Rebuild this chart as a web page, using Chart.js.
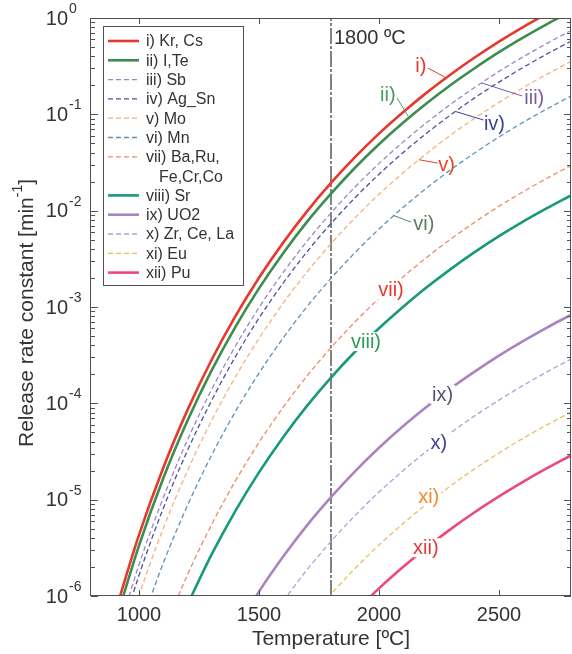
<!DOCTYPE html>
<html>
<head>
<meta charset="utf-8">
<title>Release rate constants</title>
<script src="https://cdn.jsdelivr.net/npm/chart.js@4.4.1/dist/chart.umd.min.js"></script>
<style>
  html, body { margin: 0; padding: 0; background: #fff; }
  #releaseChart { display: block; }
</style>
</head>
<body>
<canvas id="releaseChart" width="572" height="654"></canvas>
<script>
// temperature grid [ºC] and release rate constants [1/min]
const temps = [800, 900, 1000, 1100, 1200, 1300, 1400, 1500, 1600, 1700, 1800,
               1900, 2000, 2100, 2200, 2300, 2400, 2500, 2600, 2700, 2800];

const krCs   = [null, 6.71e-7, 4.31e-6, 2.11e-5, 8.30e-5, 2.75e-4, 7.89e-4, 2.01e-3, 4.63e-3, 9.84e-3, 1.94e-2,
                3.59e-2, 6.30e-2, 0.105, 0.169, 0.261, 0.391, 0.569, 0.805, 1.11, 1.51];
const iTe    = [null, 5.21e-7, 3.34e-6, 1.64e-5, 6.44e-5, 2.13e-4, 6.12e-4, 1.56e-3, 3.60e-3, 7.64e-3, 1.50e-2,
                2.79e-2, 4.89e-2, 8.17e-2, 0.131, 0.203, 0.303, 0.442, 0.625, 0.865, 1.17];
const sb     = [null, 3.29e-7, 2.11e-6, 1.03e-5, 4.06e-5, 1.35e-4, 3.86e-4, 9.86e-4, 2.27e-3, 4.82e-3, 9.48e-3,
                1.76e-2, 3.08e-2, 5.15e-2, 8.26e-2, 0.128, 0.191, 0.279, 0.394, 0.546, 0.740];
const agSn   = [null, 2.55e-7, 1.64e-6, 8.02e-6, 3.16e-5, 1.04e-4, 3.00e-4, 7.66e-4, 1.76e-3, 3.74e-3, 7.36e-3,
                1.36e-2, 2.39e-2, 4.00e-2, 6.41e-2, 9.93e-2, 0.149, 0.216, 0.306, 0.424, 0.574];
const mo     = [null, 1.57e-7, 1.01e-6, 4.94e-6, 1.95e-5, 6.44e-5, 1.85e-4, 4.72e-4, 1.09e-3, 2.31e-3, 4.54e-3,
                8.41e-3, 1.48e-2, 2.47e-2, 3.95e-2, 6.12e-2, 9.16e-2, 0.133, 0.189, 0.261, 0.354];
const mn     = [null, null, 4.41e-7, 2.16e-6, 8.49e-6, 2.81e-5, 8.07e-5, 2.06e-4, 4.74e-4, 1.01e-3, 1.98e-3,
                3.67e-3, 6.44e-3, 1.08e-2, 1.73e-2, 2.67e-2, 4.00e-2, 5.82e-2, 8.24e-2, 0.114, 0.155];
const baRu   = [null, null, null, 4.11e-7, 1.62e-6, 5.36e-6, 1.54e-5, 3.93e-5, 9.04e-5, 1.92e-4, 3.78e-4,
                7.00e-4, 1.23e-3, 2.05e-3, 3.29e-3, 5.09e-3, 7.62e-3, 1.11e-2, 1.57e-2, 2.17e-2, 2.94e-2];
const sr     = [null, null, null, null, 7.93e-7, 2.62e-6, 7.53e-6, 1.92e-5, 4.43e-5, 9.40e-5, 1.85e-4,
                3.43e-4, 6.01e-4, 1.00e-3, 1.61e-3, 2.49e-3, 3.73e-3, 5.43e-3, 7.69e-3, 1.06e-2, 1.44e-2];
const uo2    = [null, null, null, null, null, null, 4.34e-7, 1.11e-6, 2.55e-6, 5.41e-6, 1.06e-5,
                1.97e-5, 3.46e-5, 5.78e-5, 9.27e-5, 1.44e-4, 2.15e-4, 3.13e-4, 4.43e-4, 6.12e-4, 8.30e-4];
const zrCeLa = [null, null, null, null, null, null, null, null, 8.83e-7, 1.87e-6, 3.69e-6,
                6.84e-6, 1.20e-5, 2.00e-5, 3.21e-5, 4.98e-5, 7.45e-5, 1.08e-4, 1.53e-4, 2.12e-4, 2.88e-4];
const eu     = [null, null, null, null, null, null, null, null, null, 5.28e-7, 1.04e-6,
                1.93e-6, 3.38e-6, 5.65e-6, 9.06e-6, 1.40e-5, 2.10e-5, 3.05e-5, 4.33e-5, 5.98e-5, 8.11e-5];
const pu     = [null, null, null, null, null, null, null, null, null, null, null,
                6.84e-7, 1.20e-6, 2.00e-6, 3.21e-6, 4.98e-6, 7.45e-6, 1.08e-5, 1.53e-5, 2.12e-5, 2.88e-5];

const seriesNames = ['i) Kr, Cs', 'ii) I,Te', 'iii) Sb', 'iv) Ag_Sn', 'v) Mo', 'vi) Mn',
                     ['vii) Ba,Ru,', 'Fe,Cr,Co'], 'viii) Sr', 'ix) UO2', 'x) Zr, Ce, La', 'xi) Eu', 'xii) Pu'];
const seriesValues = [krCs, iTe, sb, agSn, mo, mn, baRu, sr, uo2, zrCeLa, eu, pu];

const xTicks = [1000, 1500, 2000, 2500];
const yDecades = [0, -1, -2, -3, -4, -5, -6];
const markerTemp = 1800;
const markerSpan = [1e-6, 1];

const FONT = "'Liberation Sans', Arial, Helvetica, sans-serif";
const INK = '#333333';

// line look for each series (solid = thick, dashed = thin)
const seriesStyles = [
    { color: '#e8382d', dashed: false },
    { color: '#3d8d4f', dashed: false },
    { color: '#9d86c4', dashed: true },
    { color: '#4d4f9e', dashed: true },
    { color: '#f5b27c', dashed: true },
    { color: '#5e91b5', dashed: true },
    { color: '#f08a68', dashed: true },
    { color: '#17997b', dashed: false },
    { color: '#a985c0', dashed: false },
    { color: '#a2a4dc', dashed: true },
    { color: '#ecbd5c', dashed: true },
    { color: '#ec4a79', dashed: false }
];

// inline labels, placed in data coordinates
const curveLabels = [
    { text: 'i)',    color: '#e8382d', at: [2174, 0.318],   leader: [[2203, 0.303], [2274, 0.244]] },
    { text: 'ii)',   color: '#4b9a5a', at: [2037, 0.159],   leader: [[2075, 0.148], [2122, 0.095]] },
    { text: 'iii)',  color: '#7a5aa8', at: [2647, 0.148],   leader: [[2597, 0.155], [2427, 0.212]] },
    { text: 'iv)',   color: '#3c3f9a', at: [2481, 0.0813],  leader: [[2436, 0.0873], [2319, 0.107]] },
    { text: 'v)',    color: '#e8452a', at: [2282, 0.0305],  leader: [[2245, 0.0312], [2166, 0.0338]] },
    { text: 'vi)',   color: '#5b7c63', at: [2187, 7.43e-3], leader: [[2133, 7.62e-3], [2062, 8.89e-3]] },
    { text: 'vii)',  color: '#e8392a', at: [2050, 1.53e-3], knockout: true },
    { text: 'viii)', color: '#2a9a5a', at: [1946, 4.43e-4], knockout: true },
    { text: 'ix)',   color: '#5b4f7a', at: [2265, 1.25e-4], knockout: true },
    { text: 'x)',    color: '#40409a', at: [2249, 3.95e-5], knockout: true },
    { text: 'xi)',   color: '#f08a2a', at: [2207, 1.09e-5], knockout: true },
    { text: 'xii)',  color: '#e23a3a', at: [2195, 3.21e-6], knockout: true }
];

function toPoints(values) {
    return temps.map((t, i) => ({ x: t, y: values[i] }));
}

const datasets = seriesValues.map((values, i) => {
    const st = seriesStyles[i];
    return {
        label: seriesNames[i],
        data: toPoints(values),
        borderColor: st.color,
        borderWidth: st.dashed ? 1.3 : 2.6,
        borderDash: st.dashed ? [5, 3] : [],
        pointRadius: 0,
        cubicInterpolationMode: 'monotone',
        fill: false
    };
});

// 1800 ºC marker line
datasets.push({
    label: '1800 ºC',
    data: markerSpan.map(v => ({ x: markerTemp, y: v })),
    borderColor: '#767676',
    borderWidth: 1.8,
    borderDash: [16, 2, 3, 2],
    pointRadius: 0,
    tension: 0,
    inLegend: false
});

const decorations = {
    id: 'decorations',
    afterDatasetsDraw(chart) {
        const { ctx, chartArea: a, scales: { x, y } } = chart;
        ctx.save();

        // curve labels
        ctx.font = `20px ${FONT}`;
        ctx.textAlign = 'center';
        ctx.textBaseline = 'middle';
        curveLabels.forEach(l => {
            const px = x.getPixelForValue(l.at[0]);
            const py = y.getPixelForValue(l.at[1]);
            const w = ctx.measureText(l.text).width;
            if (l.knockout) {
                ctx.fillStyle = '#fff';
                ctx.fillRect(px - w / 2 - 2, py - 9, w + 4, 19);
            }
            if (l.leader) {
                ctx.strokeStyle = l.color;
                ctx.lineWidth = 1;
                ctx.setLineDash([]);
                ctx.beginPath();
                ctx.moveTo(x.getPixelForValue(l.leader[0][0]), y.getPixelForValue(l.leader[0][1]));
                ctx.lineTo(x.getPixelForValue(l.leader[1][0]), y.getPixelForValue(l.leader[1][1]));
                ctx.stroke();
            }
            ctx.fillStyle = l.color;
            ctx.fillText(l.text, px, py + 1);
        });

        // marker caption
        ctx.textAlign = 'left';
        ctx.fillStyle = INK;
        ctx.fillText('1800 ºC', x.getPixelForValue(markerTemp) + 3, a.top + 20);

        // frame
        ctx.strokeStyle = '#505050';
        ctx.lineWidth = 1;
        ctx.setLineDash([]);
        ctx.strokeRect(a.left - 0.5, a.top + 0.5, a.right - a.left, a.bottom - a.top - 1);

        // inward ticks on x
        ctx.beginPath();
        x.ticks.forEach(t => {
            const px = Math.round(x.getPixelForValue(t.value)) + 0.5;
            ctx.moveTo(px, a.bottom); ctx.lineTo(px, a.bottom - 6);
            ctx.moveTo(px, a.top); ctx.lineTo(px, a.top + 6);
        });
        // inward ticks on y (decades + minor)
        yDecades.forEach(e => {
            for (let m = 1; m <= 9; m++) {
                const v = m * Math.pow(10, e);
                if (v > 1.0001) break;
                const py = Math.round(y.getPixelForValue(v)) + 0.5;
                const len = m === 1 ? 7 : 4;
                ctx.moveTo(a.left, py); ctx.lineTo(a.left + len, py);
                ctx.moveTo(a.right, py); ctx.lineTo(a.right - len, py);
            }
        });
        ctx.stroke();

        // y tick labels 10^n
        ctx.fillStyle = INK;
        ctx.textBaseline = 'middle';
        yDecades.forEach(e => {
            const py = y.getPixelForValue(Math.pow(10, e));
            ctx.font = `20px ${FONT}`;
            ctx.textAlign = 'right';
            ctx.fillText('10', 68, py + 1);
            ctx.font = `14px ${FONT}`;
            ctx.textAlign = 'left';
            ctx.fillText(e === 0 ? '0' : '-' + (-e), 69, py - 9);
        });

        // y title, rotated, with superscript
        const main = 'Release rate constant [min';
        const sup = '-1';
        const tail = ']';
        ctx.font = `21px ${FONT}`;
        const w1 = ctx.measureText(main).width;
        const w3 = ctx.measureText(tail).width;
        ctx.font = `14px ${FONT}`;
        const w2 = ctx.measureText(sup).width;
        const total = w1 + w2 + w3;
        ctx.translate(27, (a.top + a.bottom) / 2 + 6);
        ctx.rotate(-Math.PI / 2);
        ctx.textAlign = 'left';
        ctx.font = `21px ${FONT}`;
        ctx.fillText(main, -total / 2, 0);
        ctx.font = `14px ${FONT}`;
        ctx.fillText(sup, -total / 2 + w1, -9);
        ctx.font = `21px ${FONT}`;
        ctx.fillText(tail, -total / 2 + w1 + w2, 0);
        ctx.setTransform(1, 0, 0, 1, 0, 0);

        // legend box
        const box = { left: 103.5, top: 26.5, width: 140, height: 259 };
        ctx.fillStyle = '#fff';
        ctx.fillRect(box.left, box.top, box.width, box.height);
        ctx.strokeStyle = '#505050';
        ctx.lineWidth = 1;
        ctx.strokeRect(box.left, box.top, box.width, box.height);

        let rowY = 41;
        const rowStep = 19.3;
        ctx.font = `16px ${FONT}`;
        ctx.textAlign = 'left';
        ctx.textBaseline = 'middle';
        chart.data.datasets.forEach(ds => {
            if (ds.inLegend === false) return;
            ctx.strokeStyle = ds.borderColor;
            ctx.lineWidth = ds.borderWidth;
            ctx.setLineDash(ds.borderDash);
            ctx.beginPath();
            ctx.moveTo(108, rowY);
            ctx.lineTo(139, rowY);
            ctx.stroke();
            ctx.setLineDash([]);
            ctx.fillStyle = INK;
            const lines = Array.isArray(ds.label) ? ds.label : [ds.label];
            lines.forEach((txt, k) => {
                ctx.fillText(txt, k === 0 ? 146 : 159, rowY + 1);
                if (k < lines.length - 1) rowY += rowStep;
            });
            rowY += rowStep;
        });

        ctx.restore();
    }
};

const ctx = document.getElementById('releaseChart').getContext('2d');
Chart.defaults.font.family = FONT;
Chart.defaults.color = INK;

const chart = new Chart(ctx, {
    type: 'line',
    data: { datasets },
    options: {
        responsive: false,
        animation: false,
        devicePixelRatio: 1,
        layout: { padding: { top: 18, right: 1, left: 0, bottom: 0 } },
        plugins: {
            legend: { display: false },
            tooltip: { enabled: false }
        },
        scales: {
            x: {
                type: 'linear',
                min: 800,
                max: 2800,
                grid: { display: false },
                border: { display: false },
                afterBuildTicks: scale => {
                    scale.ticks = xTicks.map(v => ({ value: v }));
                },
                ticks: {
                    font: { size: 20 },
                    color: INK,
                    padding: -1,
                    maxRotation: 0,
                    autoSkip: false,
                    callback: v => String(v)
                },
                title: {
                    display: true,
                    text: 'Temperature [ºC]',
                    font: { size: 21 },
                    color: INK,
                    padding: { top: 0, bottom: 2 }
                },
                afterFit: scale => { scale.height = 58; }
            },
            y: {
                type: 'logarithmic',
                min: 1e-6,
                max: 1,
                grid: { display: false },
                border: { display: false },
                ticks: { display: false },
                afterFit: scale => { scale.width = 91; }
            }
        }
    },
    plugins: [decorations]
});
</script>
</body>
</html>
